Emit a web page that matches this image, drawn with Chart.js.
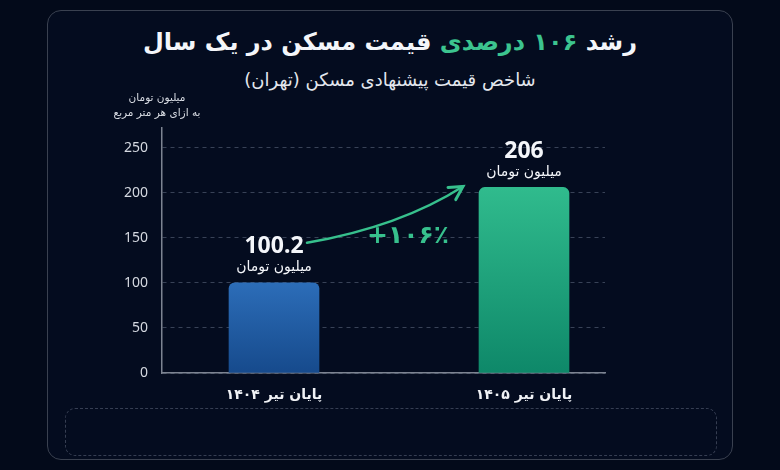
<!DOCTYPE html>
<html lang="fa">
<head>
<meta charset="utf-8">
<script src="https://cdn.jsdelivr.net/npm/chart.js@4.4.1/dist/chart.umd.min.js"></script>
<style>
    html, body { margin: 0; padding: 0; background: #030a1a; }
    body { width: 780px; height: 470px; position: relative; overflow: hidden; font-family: "DejaVu Sans", sans-serif; }
    #panel { position: absolute; left: 47px; top: 10px; width: 686px; height: 450px; border: 1px solid #3a4150; border-radius: 14px; background: #040c1f; box-sizing: border-box; }
    #note { position: absolute; left: 65px; top: 408px; width: 652px; height: 48px; border: 1px dashed #363e52; border-radius: 10px; box-sizing: border-box; }
    h1 { position: absolute; left: 0; top: 22px; width: 780px; margin: 0; text-align: center; direction: rtl; font-size: 24px; line-height: 40px; font-weight: bold; color: #f4f6fa; }
    h1 span { color: #3cc48f; }
    h2 { position: absolute; left: 0; top: 66px; width: 780px; margin: 0; text-align: center; direction: rtl; font-size: 18px; line-height: 28px; font-weight: normal; color: #e3e7ee; }
    #wrap { position: absolute; left: 0; top: 0; width: 780px; height: 470px; }
</style>
</head>
<body>
<div id="panel"></div>
<div id="note"></div>
<h1>رشد <span>۱۰۶ درصدی</span> قیمت مسکن در یک سال</h1>
<h2>شاخص قیمت پیشنهادی مسکن (تهران)</h2>
<div id="wrap"><canvas id="myChart"></canvas></div>

<script>
// داده ها
const categories = ['پایان تیر ۱۴۰۴', 'پایان تیر ۱۴۰۵'];
const prices = [100.2, 206];
const barPositions = [0, 1];
const yTicks = [0, 50, 100, 150, 200, 250];
const valueUnit = 'میلیون تومان';
const axisUnit = ['میلیون تومان', 'به ازای هر متر مربع'];
const growthLabel = '+۱۰۶٪';

const barColors = [['#2c6db8', '#164a8c'], ['#30bb8d', '#0e8869']];
const green = '#37c08d';

function barFill(c) {
    const chart = c.chart;
    const pal = barColors[c.dataIndex];
    if (!chart.chartArea || !c.raw) return pal[0];
    const y = chart.scales.y;
    const g = chart.ctx.createLinearGradient(0, y.getPixelForValue(c.raw.y), 0, y.getPixelForValue(0));
    g.addColorStop(0, pal[0]);
    g.addColorStop(1, pal[1]);
    return g;
}

// برچسب ها و فلش رشد
const overlay = {
    id: 'overlay',
    afterDatasetsDraw(chart) {
        const { ctx, chartArea, scales: { y } } = chart;
        const bars = chart.getDatasetMeta(0).data;
        ctx.save();
        ctx.textAlign = 'center';
        ctx.textBaseline = 'middle';

        ctx.fillStyle = '#d9dde4';
        ctx.font = '10.5px "DejaVu Sans"';
        ctx.fillText(axisUnit[0], chartArea.left - 5, chartArea.top - 30);
        ctx.fillText(axisUnit[1], chartArea.left - 5, chartArea.top - 15);

        bars.forEach((b, i) => {
            ctx.fillStyle = '#f4f6fa';
            ctx.font = 'bold 23px "Noto Sans"';
            ctx.fillText(String(prices[i]), b.x, b.y - 36);
            ctx.font = '14px "DejaVu Sans"';
            ctx.fillText(valueUnit, b.x, b.y - 15);
        });

        const a = bars[0], g = bars[1];
        const sx = a.x + 33, sy = a.y - 40;
        const ex = g.x - 61, ey = g.y - 1;
        const cx = (sx + ex) / 2 + 15, cy = (sy + ey) / 2 + 12;
        ctx.strokeStyle = green;
        ctx.lineWidth = 2.5;
        ctx.lineCap = 'round';
        ctx.beginPath();
        ctx.moveTo(sx, sy);
        ctx.quadraticCurveTo(cx, cy, ex, ey);
        ctx.stroke();
        const ang = Math.atan2(ey - cy, ex - cx);
        ctx.lineWidth = 3;
        ctx.beginPath();
        ctx.moveTo(ex - 15 * Math.cos(ang - 0.5), ey - 15 * Math.sin(ang - 0.5));
        ctx.lineTo(ex, ey);
        ctx.lineTo(ex - 15 * Math.cos(ang + 0.5), ey - 15 * Math.sin(ang + 0.5));
        ctx.stroke();

        ctx.fillStyle = green;
        ctx.font = 'bold 25px "DejaVu Sans"';
        ctx.direction = 'ltr';
        ctx.fillText(growthLabel, (a.x + g.x) / 2 + 9, y.getPixelForValue(152));
        ctx.restore();
    }
};

const ctx = document.getElementById('myChart');

new Chart(ctx, {
    type: 'bar',
    data: {
        datasets: [{
            data: barPositions.map((x, i) => ({ x: x, y: prices[i] })),
            backgroundColor: barFill,
            barThickness: 90,
            borderRadius: { topLeft: 6, topRight: 6, bottomLeft: 0, bottomRight: 0 },
            borderSkipped: 'start'
        }]
    },
    options: {
        responsive: true,
        maintainAspectRatio: false,
        animation: false,
        layout: { padding: { left: 100, right: 175, top: 128, bottom: 57 } },
        plugins: {
            legend: { display: false },
            tooltip: { enabled: false }
        },
        scales: {
            x: {
                type: 'linear',
                offset: false,
                min: -0.448,
                max: 1.324,
                grid: { display: false },
                border: { display: true, color: '#7d8492', width: 1.5 },
                afterBuildTicks: s => { s.ticks = barPositions.map(v => ({ value: v })); },
                afterFit: s => { s.height = 40; },
                ticks: {
                    autoSkip: false,
                    maxRotation: 0,
                    padding: 6,
                    color: '#f0f2f5',
                    font: { family: 'DejaVu Sans', size: 14, weight: 'bold' },
                    callback: v => categories[barPositions.indexOf(v)]
                }
            },
            y: {
                min: 0,
                max: 272,
                afterBuildTicks: s => { s.ticks = yTicks.map(v => ({ value: v })); },
                afterFit: s => { s.width = 62; },
                grid: { color: '#384257', drawTicks: false },
                border: { display: true, color: '#7d8492', width: 1.5, dash: [4, 4] },
                ticks: {
                    padding: 14,
                    color: '#d5d9e1',
                    font: { family: 'Noto Sans', size: 14 }
                }
            }
        }
    },
    plugins: [overlay]
});
</script>
</body>
</html>
